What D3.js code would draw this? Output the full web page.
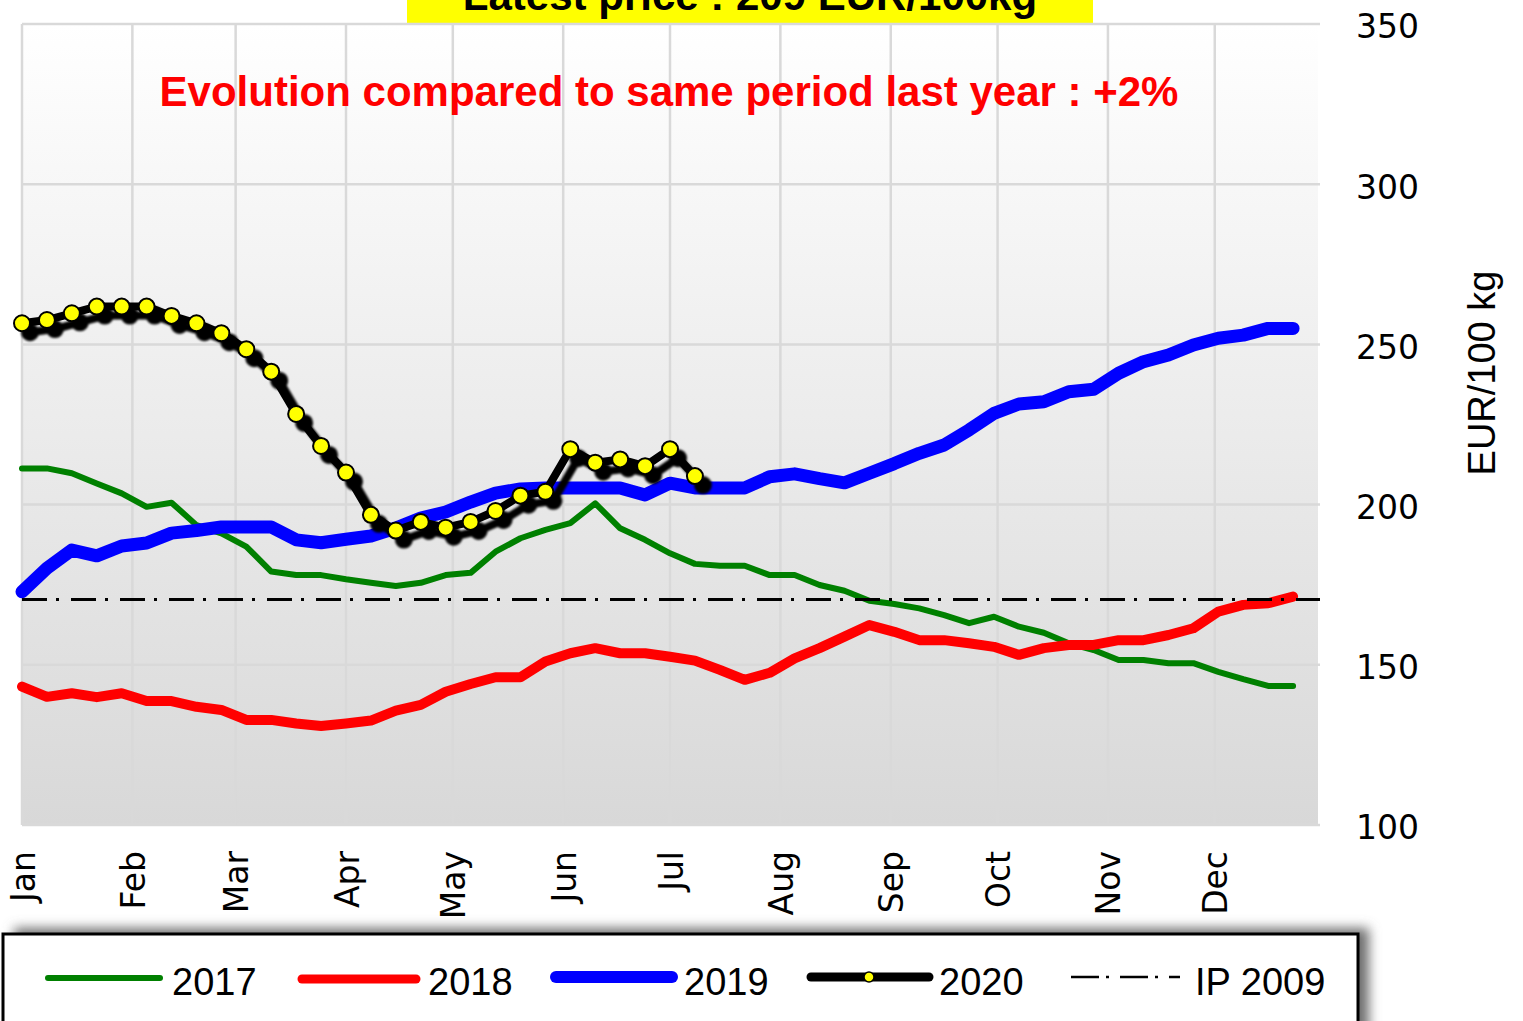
<!DOCTYPE html>
<html>
  <head>
    <meta charset="utf-8">
    <script src="https://d3js.org/d3.v7.min.js"></script>
    <title>Weekly price</title>
    <style>
      body {
        margin: 0px;
        background: #fff;
      }
      .domain {
        display: none;
      }
      .ytick text {
        font-family: 'DejaVu Sans', sans-serif;
        font-size: 33px;
        fill: #000;
      }
      .xtick text {
        font-family: 'DejaVu Sans', sans-serif;
        font-size: 33px;
        fill: #000;
      }
      .legend text {
        font-family: 'Liberation Sans', sans-serif;
        font-size: 38px;
        fill: #000;
      }
    </style>
  </head>
  <body>
    <svg width="1523" height="1021"></svg>
    <script>
      // values (EUR/100 kg), one per week
      const months = ['Jan', 'Feb', 'Mar', 'Apr', 'May', 'Jun', 'Jul', 'Aug', 'Sep', 'Oct', 'Nov', 'Dec'];
      const monthStartDay = [0, 31, 60, 91, 121, 152, 182, 213, 244, 274, 305, 335];
      const yTicks = [100, 150, 200, 250, 300, 350];

      const s2017 = [211.3, 211.3, 209.8, 206.6, 203.5, 199.3, 200.6, 193.6, 191.0, 186.9,
                     179.1, 178.0, 178.0, 176.7, 175.6, 174.6, 175.6, 178.0, 178.7, 185.3,
                     189.5, 192.1, 194.2, 200.4, 192.6, 189.0, 184.8, 181.5, 180.9, 180.9,
                     178.0, 178.0, 174.9, 173.1, 170.0, 169.0, 167.6, 165.5, 163.0, 165.0,
                     161.9, 160.0, 156.7, 154.6, 151.5, 151.5, 150.5, 150.5, 147.8, 145.5,
                     143.4, 143.4];
      const s2018 = [143.2, 140.0, 141.1, 139.9, 141.1, 138.7, 138.7, 136.9, 135.9, 132.8,
                     132.8, 131.7, 130.9, 131.7, 132.6, 135.7, 137.5, 141.6, 144.0, 146.1,
                     146.1, 151.0, 153.6, 155.2, 153.6, 153.6, 152.5, 151.3, 148.4, 145.3,
                     147.5, 152.0, 155.2, 158.8, 162.4, 160.3, 157.7, 157.7, 156.7, 155.6,
                     153.1, 155.2, 156.2, 156.2, 157.7, 157.7, 159.3, 161.4, 166.6, 168.7,
                     169.2, 171.3];
      const s2019 = [172.8, 180.1, 185.8, 184.0, 187.1, 188.0, 191.1, 191.9, 193.0, 193.0,
                     193.0, 189.0, 188.1, 189.2, 190.2, 192.7, 195.8, 197.7, 200.8, 203.6,
                     204.9, 205.2, 205.2, 205.2, 205.2, 203.0, 206.7, 205.2, 205.2, 205.2,
                     208.7, 209.6, 208.1, 206.8, 209.8, 212.8, 216.0, 218.6, 223.3, 228.5,
                     231.4, 232.1, 235.2, 236.0, 241.0, 244.6, 246.7, 249.8, 251.9, 252.9,
                     255.0, 255.0];
      const s2020 = [256.6, 257.6, 259.7, 261.8, 261.8, 261.8, 258.9, 256.6, 253.5, 248.5,
                     241.5, 228.3, 218.3, 210.0, 196.8, 191.9, 194.6, 192.8, 194.6, 198.0,
                     202.8, 204.0, 217.3, 213.1, 214.1, 212.0, 217.3, 208.9];
      const ip2009 = 170.4;

      const titleText = 'Latest price : 209 EUR/100kg';
      const evolutionText = 'Evolution compared to same period last year : +2%';
      const yLabel = 'EUR/100 kg';

      const svg = d3.select('svg');
      const plot = { left: 22, right: 1318, top: 24, bottom: 825 };

      const xScale = d3.scaleLinear().domain([1, 53]).range([plot.left, plot.right]);
      const yScale = d3.scaleLinear().domain([100, 350]).range([plot.bottom, plot.top]);

      const defs = svg.append('defs');
      const grad = defs.append('linearGradient')
          .attr('id', 'bg').attr('x1', 0).attr('y1', 0).attr('x2', 0).attr('y2', 1);
      grad.append('stop').attr('offset', '0%').attr('stop-color', '#ffffff');
      grad.append('stop').attr('offset', '100%').attr('stop-color', '#d8d8d8');

      // black shadow under the 2020 series
      const shadow = defs.append('filter').attr('id', 'shadow')
          .attr('filterUnits', 'userSpaceOnUse')
          .attr('x', 0).attr('y', 0).attr('width', 1523).attr('height', 1021);
      shadow.append('feOffset').attr('in', 'SourceAlpha').attr('dx', 8).attr('dy', 9).attr('result', 'off');
      shadow.append('feGaussianBlur').attr('in', 'off').attr('stdDeviation', 1).attr('result', 'blur');
      const merge = shadow.append('feMerge');
      merge.append('feMergeNode').attr('in', 'blur');
      merge.append('feMergeNode').attr('in', 'SourceGraphic');

      const boxShadow = defs.append('filter').attr('id', 'boxshadow')
          .attr('x', '-10%').attr('y', '-30%').attr('width', '120%').attr('height', '160%');
      boxShadow.append('feGaussianBlur').attr('stdDeviation', 6);

      // title box (cut by the top edge, as in the source)
      svg.append('rect')
          .attr('x', 407).attr('y', -30).attr('width', 686).attr('height', 53)
          .attr('fill', '#ffff00');
      svg.append('text')
          .attr('x', 750).attr('y', 10)
          .attr('text-anchor', 'middle')
          .style('font-family', 'Liberation Sans, sans-serif')
          .style('font-weight', 'bold')
          .style('font-size', '42px')
          .text(titleText);

      // plot background
      svg.append('rect')
          .attr('x', plot.left).attr('y', plot.top)
          .attr('width', plot.right - plot.left).attr('height', plot.bottom - plot.top)
          .attr('fill', 'url(#bg)');

      const grid = svg.append('g').attr('stroke', '#d9d9d9').attr('stroke-width', 2.5);
      grid.selectAll('.hg').data(yTicks).enter().append('line')
          .attr('x1', plot.left).attr('x2', plot.right + 2)
          .attr('y1', d => yScale(d)).attr('y2', d => yScale(d));
      grid.selectAll('.vg').data(monthStartDay).enter().append('line')
          .attr('x1', d => xScale(1 + d / 7)).attr('x2', d => xScale(1 + d / 7))
          .attr('y1', plot.top).attr('y2', plot.bottom);

      svg.append('text')
          .attr('x', 669).attr('y', 106)
          .attr('text-anchor', 'middle')
          .attr('fill', '#ff0000')
          .style('font-family', 'Liberation Sans, sans-serif')
          .style('font-weight', 'bold')
          .style('font-size', '42px')
          .text(evolutionText);

      // axes
      const yAxis = d3.axisRight(yScale).tickValues(yTicks).tickSize(0).tickPadding(38);
      svg.append('g')
          .attr('class', 'ytick')
          .attr('transform', `translate(${plot.right},0)`)
          .call(yAxis)
          .selectAll('text').attr('dy', '0.42em');

      const xAxis = d3.axisBottom(xScale)
          .tickValues(monthStartDay.map(d => 1 + d / 7))
          .tickFormat((d, i) => months[i])
          .tickSize(0);
      svg.append('g')
          .attr('class', 'xtick')
          .attr('transform', `translate(0,${plot.bottom})`)
          .call(xAxis)
          .selectAll('text')
            .attr('transform', 'rotate(-90)')
            .attr('text-anchor', 'end')
            .attr('x', -26)
            .attr('y', 12)
            .attr('dy', 0);

      svg.append('text')
          .attr('transform', 'translate(1495,373) rotate(-90)')
          .attr('text-anchor', 'middle')
          .style('font-family', 'Liberation Sans, sans-serif')
          .style('font-size', '38px')
          .text(yLabel);

      // series
      const line = d3.line()
          .x((d, i) => xScale(i + 1))
          .y(d => yScale(d));

      const series = [
        { values: s2017, color: '#008000', width: 6 },
        { values: s2018, color: '#ff0000', width: 10 },
        { values: s2019, color: '#0000ff', width: 13 }
      ];
      series.forEach(s => {
        svg.append('path')
            .datum(s.values)
            .attr('fill', 'none')
            .attr('stroke', s.color)
            .attr('stroke-width', s.width)
            .attr('stroke-linejoin', 'round')
            .attr('stroke-linecap', 'round')
            .attr('d', line);
      });

      const g2020 = svg.append('g').attr('filter', 'url(#shadow)');
      g2020.append('path')
          .datum(s2020)
          .attr('fill', 'none')
          .attr('stroke', '#000')
          .attr('stroke-width', 8)
          .attr('stroke-linejoin', 'round')
          .attr('d', line);
      g2020.selectAll('circle').data(s2020)
        .enter()
        .append('circle')
          .attr('cx', (d, i) => xScale(i + 1))
          .attr('cy', d => yScale(d))
          .attr('r', 8)
          .attr('fill', '#ffff00')
          .attr('stroke', '#000')
          .attr('stroke-width', 2);

      svg.append('line')
          .attr('x1', plot.left).attr('x2', plot.right + 2)
          .attr('y1', yScale(ip2009)).attr('y2', yScale(ip2009))
          .attr('stroke', '#000')
          .attr('stroke-width', 3)
          .attr('stroke-dasharray', '25,9,3,12');

      // legend
      const legend = svg.append('g').attr('class', 'legend');
      legend.append('rect')
          .attr('x', 14).attr('y', 928).attr('width', 1355).attr('height', 130)
          .attr('fill', '#707070')
          .attr('filter', 'url(#boxshadow)');
      legend.append('rect')
          .attr('x', 3).attr('y', 934).attr('width', 1355).attr('height', 120)
          .attr('fill', '#fff')
          .attr('stroke', '#000')
          .attr('stroke-width', 3);

      const legendItems = [
        { label: '2017', x1: 48, x2: 160, y: 978, color: '#008000', width: 6, tx: 172 },
        { label: '2018', x1: 302, x2: 416, y: 979, color: '#ff0000', width: 9, tx: 428 },
        { label: '2019', x1: 556, x2: 672, y: 977, color: '#0000ff', width: 12, tx: 684 },
        { label: '2020', x1: 811, x2: 929, y: 977, color: '#000', width: 9, tx: 939 }
      ];
      legendItems.forEach(d => {
        legend.append('line')
            .attr('x1', d.x1).attr('x2', d.x2).attr('y1', d.y).attr('y2', d.y)
            .attr('stroke', d.color).attr('stroke-width', d.width)
            .attr('stroke-linecap', 'round');
        legend.append('text').attr('x', d.tx).attr('y', 995).text(d.label);
      });
      legend.append('circle')
          .attr('cx', 869).attr('cy', 977).attr('r', 5)
          .attr('fill', '#ffff00').attr('stroke', '#000').attr('stroke-width', 1.5);
      legend.append('line')
          .attr('x1', 1071).attr('x2', 1180).attr('y1', 977).attr('y2', 977)
          .attr('stroke', '#000').attr('stroke-width', 2.5)
          .attr('stroke-dasharray', '28,7,3,11');
      legend.append('text').attr('x', 1195).attr('y', 995).text('IP 2009');
    </script>
  </body>
</html>
